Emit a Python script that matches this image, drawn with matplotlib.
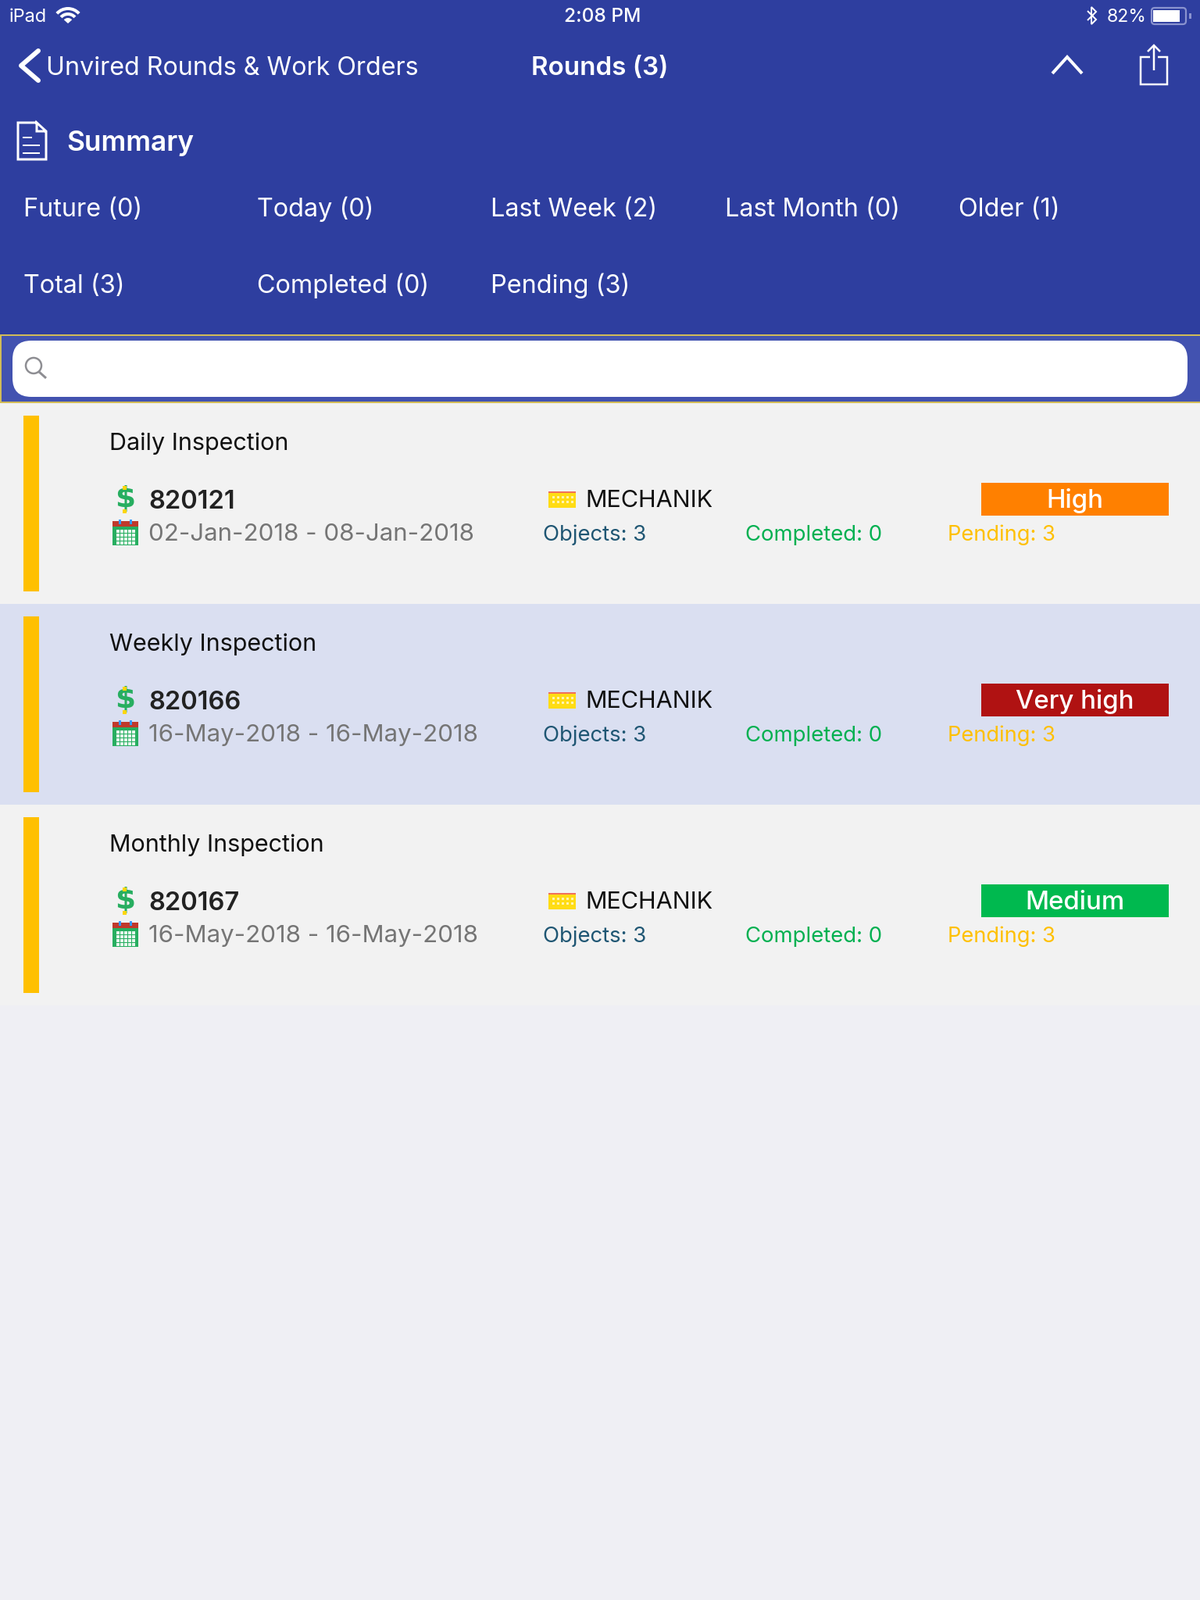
import matplotlib
matplotlib.use('Agg')
import matplotlib.pyplot as plt
from matplotlib.patches import Rectangle, FancyBboxPatch, Wedge, Circle

plt.rcParams['font.family'] = 'Inter'

# data
stat_row1 = ['Future (0)', 'Today (0)', 'Last Week (2)', 'Last Month (0)', 'Older (1)']
stat_row2 = ['Total (3)', 'Completed (0)', 'Pending (3)']
titles = ['Daily Inspection', 'Weekly Inspection', 'Monthly Inspection']
ids = ['820121', '820166', '820167']
dates = ['02-Jan-2018 - 08-Jan-2018', '16-May-2018 - 16-May-2018', '16-May-2018 - 16-May-2018']
plants = ['MECHANIK', 'MECHANIK', 'MECHANIK']
objects = [3, 3, 3]
completed = [0, 0, 0]
pending = [3, 3, 3]
priorities = ['High', 'Very high', 'Medium']
priority_colors = ['#ff8000', '#b01212', '#00b94f']
row_colors = ['#f2f2f2', '#dadfF1', '#f2f2f2']

HEADER = '#2e3e9f'
ROW_H = 257

fig = plt.figure(figsize=(15.36, 20.48), dpi=100, facecolor='#efeff4')
ax = fig.add_axes([0, 0, 1, 1])
ax.set_xlim(0, 1536)
ax.set_ylim(2048, 0)
ax.axis('off')


def txt(x, y, s, size, color='white', weight='normal', ha='left'):
    # size in pixels
    ax.text(x, y, s, fontsize=size * 0.72, color=color, fontweight=weight, ha=ha, va='baseline')


def line(xs, ys, lw, color='white', cap='butt', join='miter'):
    ax.plot(xs, ys, color=color, lw=lw * 0.72, solid_capstyle=cap, solid_joinstyle=join)


def rect(x0, y0, x1, y1, color, **kw):
    ax.add_patch(Rectangle((x0, y0), x1 - x0, y1 - y0, facecolor=color, edgecolor='none', **kw))


# header
rect(0, 0, 1536, 428, HEADER)

# status bar
txt(12, 28, 'iPad', 23.5)
for r, w in [(21, 4), (14, 4), (7, 7)]:
    ax.add_patch(Wedge((87, 30), r, 222, 318, width=w, facecolor='white', edgecolor='none'))
txt(771, 28, '2:08 PM', 24.5, weight=500, ha='center')
line([1392, 1403, 1397, 1397, 1403, 1392], [14, 25, 31, 9, 15, 26], 2)
txt(1417, 28, '82%', 23)
ax.add_patch(FancyBboxPatch((1474, 10), 44, 21, boxstyle='round,pad=0,rounding_size=4',
                            facecolor='none', edgecolor='#8a93cf', lw=1.6))
rect(1476, 13, 1510, 28, 'white')
rect(1522, 17, 1525, 24, '#8a93cf')

# nav bar
line([49, 27, 49], [65, 84, 103], 6, cap='round', join='round')
txt(59, 96, 'Unvired Rounds & Work Orders', 32.2)
txt(768, 96, 'Rounds (3)', 33.2, weight=600, ha='center')
line([1347, 1366, 1385], [94, 73, 94], 4)
line([1472, 1460, 1460, 1494, 1494, 1482], [73, 73, 108, 108, 73, 73], 2.5)
line([1477, 1477], [59, 90], 2.5)
line([1469, 1477, 1485], [66, 58, 66], 2.5)

# summary
line([47, 23, 23, 59, 59, 47, 47, 59], [157, 157, 204, 204, 168, 157, 168, 168], 3)
line([29, 41], [176, 176], 2)
line([29, 51], [186, 186], 2)
line([29, 51], [196, 196], 2)
txt(85, 193, 'Summary', 35.3, weight=600)

stat_x = [30, 329, 628, 928, 1227]
for x, s in zip(stat_x, stat_row1):
    txt(x, 277, s, 32.4)
for x, s in zip(stat_x, stat_row2):
    txt(x, 375, s, 32.4)

# search bar
rect(0, 428, 1536, 516, '#d1bb57')
rect(2, 430, 1536, 514, '#4252b0')
ax.add_patch(FancyBboxPatch((16, 436), 1504, 72, boxstyle='round,pad=0,rounding_size=24',
                            facecolor='white', edgecolor='none'))
ax.add_patch(Circle((43, 468), 10, facecolor='none', edgecolor='#8e8e93', lw=1.8))
line([50, 59], [476, 484], 3, color='#8e8e93')

# rows
for i in range(len(titles)):
    dy = i * ROW_H
    rect(0, 516 + dy, 1536, 516 + ROW_H + dy, row_colors[i])
    rect(30, 532 + dy, 50, 757 + dy, '#ffc000')

    txt(140, 576 + dy, titles[i], 30.5, color='#111111')

    # dollar icon
    ax.text(160, 639 + dy, '$', fontsize=27, color='#27ae60', fontweight='bold',
            family='DejaVu Sans', ha='center', va='center')
    rect(157, 622 + dy, 162, 627 + dy, '#ffd60a', zorder=4)
    rect(157, 652 + dy, 162, 657 + dy, '#ffd60a', zorder=4)
    txt(190, 651 + dy, ids[i], 32.6, color='#222222', weight=600)

    # calendar icon
    rect(144, 674 + dy, 177, 698 + dy, '#27ae60')
    rect(144, 667 + dy, 177, 674 + dy, '#c0392b')
    rect(152, 665 + dy, 155, 671 + dy, '#3498ff')
    rect(166, 665 + dy, 169, 671 + dy, '#3498ff')
    for cx in range(149, 172, 5):
        for cy in range(678, 695, 5):
            rect(cx, cy + dy, cx + 3.5, cy + 3.5 + dy, '#e8f6ee')
    txt(190, 692 + dy, dates[i], 31.2, color='#757575')

    # building icon
    rect(702, 631 + dy, 737, 650 + dy, '#ffdc14')
    rect(702, 629 + dy, 737, 631 + dy, '#f0705a')
    for cx in range(707, 735, 6):
        for cy in (635, 641):
            rect(cx, cy + dy, cx + 3, cy + 3 + dy, '#fff4b0')
    txt(749, 649 + dy, plants[i], 30.5, color='#111111')

    txt(695, 692 + dy, 'Objects: %d' % objects[i], 27.5, color='#1f5673')
    txt(954, 692 + dy, 'Completed: %d' % completed[i], 27.5, color='#00b050')
    txt(1213, 692 + dy, 'Pending: %d' % pending[i], 27.3, color='#ffc000')

    rect(1256, 618 + dy, 1496, 660 + dy, priority_colors[i])
    txt(1376, 650 + dy, priorities[i], 33, weight=500, ha='center')

fig.savefig('out.png', dpi=100, facecolor=fig.get_facecolor())
